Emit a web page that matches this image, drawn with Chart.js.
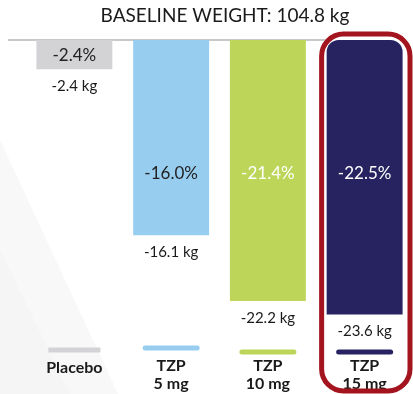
<!DOCTYPE html>
<html>
<head>
<meta charset="utf-8">
<script src="https://cdn.jsdelivr.net/npm/chart.js@4"></script>
<style>
  html, body { margin: 0; padding: 0; background: #ffffff; }
  #wrap { width: 413px; height: 394px; position: relative; }
</style>
</head>
<body>
<div id="wrap"><canvas id="c" width="413" height="394"></canvas></div>
<script>
// Mean change in body weight from baseline, by treatment arm
const categories = ['Placebo', 'TZP 5 mg', 'TZP 10 mg', 'TZP 15 mg'];
const labelLine1 = ['Placebo', 'TZP', 'TZP', 'TZP'];
const labelLine2 = ['', '5 mg', '10 mg', '15 mg'];
const pctChange = [-2.4, -16.0, -21.4, -22.5];
const kgChange = [-2.4, -16.1, -22.2, -23.6];
const baselineWeight = 104.8;

const barColors = ['#d3d3d5', '#97cdef', '#bdd65a', '#272361'];
const pctTextColors = ['#222222', '#222222', '#ffffff', '#ffffff'];
const highlightIndex = 3;

const FONT = 'Lato, "Open Sans", sans-serif';

const decorations = {
  id: 'decorations',
  beforeDraw(chart) {
    const ctx = chart.ctx;
    ctx.save();
    ctx.fillStyle = '#ffffff';
    ctx.fillRect(0, 0, chart.width, chart.height);
    // faint diagonal background sheen
    ctx.fillStyle = '#f8f8f8';
    ctx.beginPath();
    ctx.moveTo(0, 140);
    ctx.lineTo(118, 394);
    ctx.lineTo(0, 394);
    ctx.closePath();
    ctx.fill();
    ctx.fillStyle = '#f5f5f5';
    ctx.beginPath();
    ctx.moveTo(0, 250);
    ctx.lineTo(70, 394);
    ctx.lineTo(0, 394);
    ctx.closePath();
    ctx.fill();

    // title
    ctx.fillStyle = '#1a1a1a';
    ctx.font = '19px ' + FONT;
    ctx.textAlign = 'center';
    ctx.textBaseline = 'middle';
    ctx.fillText('BASELINE WEIGHT: ' + baselineWeight.toFixed(1) + ' kg', 225, 16);

    // zero baseline
    const y0 = chart.scales.y.getPixelForValue(0);
    ctx.strokeStyle = '#c9c9c9';
    ctx.lineWidth = 2;
    ctx.beginPath();
    ctx.moveTo(8, y0);
    ctx.lineTo(330, y0);
    ctx.stroke();
    ctx.restore();
  },
  afterDatasetsDraw(chart) {
    const ctx = chart.ctx;
    const meta = chart.getDatasetMeta(0);
    const y0 = chart.scales.y.getPixelForValue(0);
    ctx.save();
    ctx.textAlign = 'center';
    ctx.textBaseline = 'middle';
    meta.data.forEach((bar, i) => {
      const x = bar.x;
      const yb = bar.y;
      // percent label inside bar: centred in short bars, at a fixed depth in long ones
      ctx.fillStyle = pctTextColors[i];
      ctx.font = '17px ' + FONT;
      const yp = (yb - y0 > 100) ? y0 + 134 : (y0 + yb) / 2 + 1;
      ctx.fillText(pctChange[i].toFixed(1) + '%', x, yp);
      // kg label below bar
      ctx.fillStyle = '#1a1a1a';
      ctx.font = '15px ' + FONT;
      ctx.fillText(kgChange[i].toFixed(1) + ' kg', x, yb + 17);
      // legend stroke
      ctx.strokeStyle = barColors[i];
      ctx.lineWidth = 5;
      ctx.lineCap = i === 0 ? 'butt' : 'round';
      ctx.beginPath();
      const ys = [350, 348, 352, 352][i];
      ctx.moveTo(x - 26, ys);
      ctx.lineTo(x + 26, ys);
      ctx.stroke();
      // category label
      ctx.fillStyle = '#1a1a1a';
      ctx.font = 'bold 16px ' + FONT;
      if (labelLine2[i]) {
        ctx.fillText(labelLine1[i], x, 366);
        ctx.fillText(labelLine2[i], x, 384);
      } else {
        ctx.fillText(labelLine1[i], x, 368);
      }
    });

    // highlight frame around the top dose
    const hb = meta.data[highlightIndex];
    const left = hb.x - 43, right = 410, top = 34, bottom = 391, r = 22;
    ctx.strokeStyle = '#a3141e';
    ctx.lineWidth = 5;
    ctx.beginPath();
    ctx.moveTo(left + r, top);
    ctx.lineTo(right - r, top);
    ctx.arcTo(right, top, right, top + r, r);
    ctx.lineTo(right, bottom - r);
    ctx.arcTo(right, bottom, right - r, bottom, r);
    ctx.lineTo(left + r, bottom);
    ctx.arcTo(left, bottom, left, bottom - r, r);
    ctx.lineTo(left, top + r);
    ctx.arcTo(left, top, left + r, top, r);
    ctx.closePath();
    ctx.stroke();
    ctx.restore();
  }
};

new Chart(document.getElementById('c'), {
  type: 'bar',
  data: {
    labels: categories,
    datasets: [{
      data: pctChange,
      backgroundColor: barColors,
      borderWidth: 0,
      borderSkipped: false,
      borderRadius: (c) => c.dataIndex === highlightIndex
        ? { topLeft: 12, topRight: 12, bottomLeft: 0, bottomRight: 0 }
        : 0,
      barPercentage: 0.785,
      categoryPercentage: 1.0
    }]
  },
  options: {
    responsive: false,
    animation: false,
    devicePixelRatio: 1,
    layout: { padding: { top: 40, left: 26, right: 0, bottom: 49 } },
    plugins: {
      legend: { display: false },
      tooltip: { enabled: false },
      title: { display: false }
    },
    scales: {
      x: { display: false },
      y: { display: false, min: -25, max: 0 }
    }
  },
  plugins: [decorations]
});
</script>
</body>
</html>
